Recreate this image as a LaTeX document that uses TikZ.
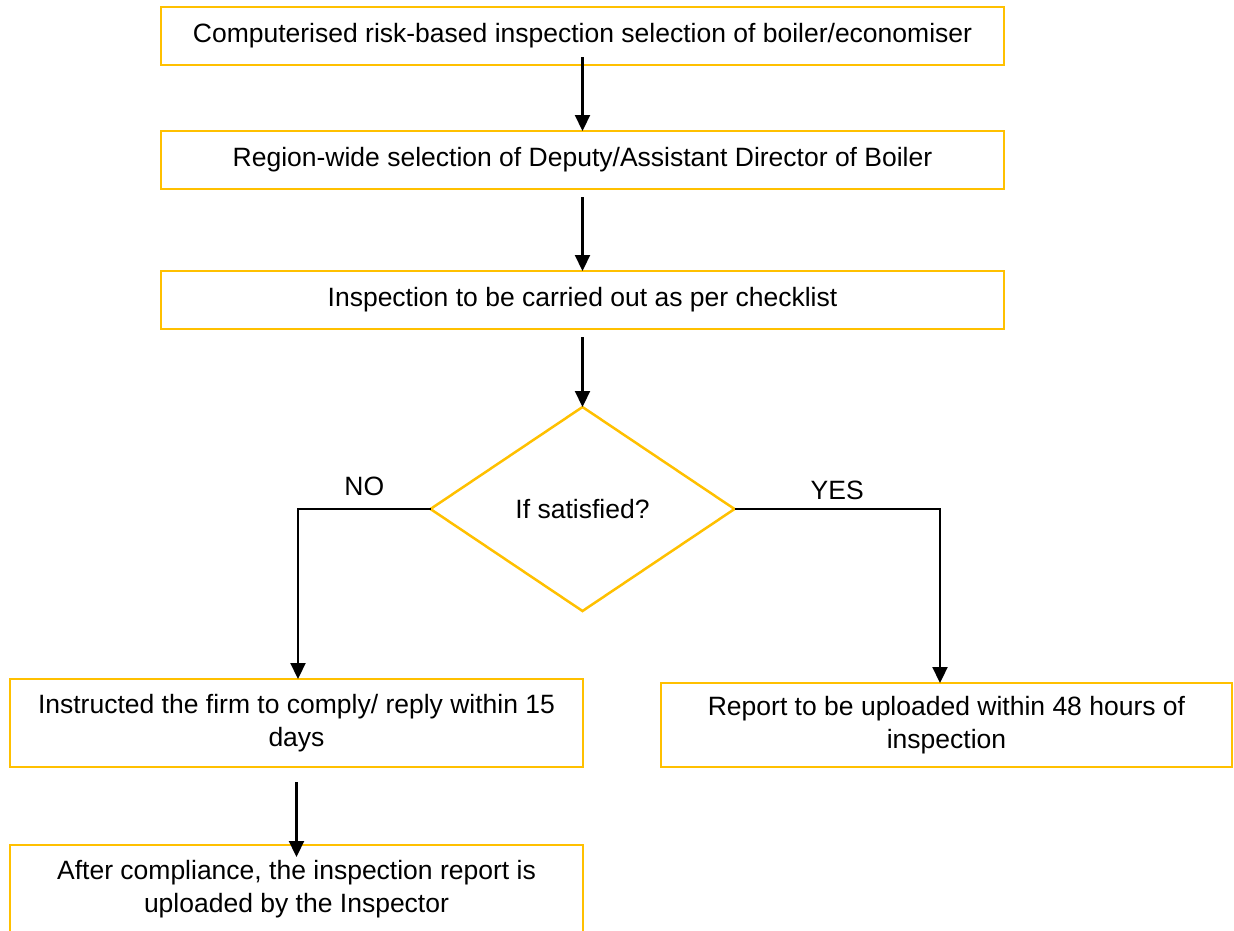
\documentclass[tikz,border=0pt]{standalone}
\usepackage{fontspec}
\setmainfont{Liberation Sans}
\usepackage{tikz}
\usetikzlibrary{positioning, shapes.geometric, arrows.meta}
\definecolor{boxgold}{HTML}{FFC000}

\begin{document}
\begin{tikzpicture}[x=1pt, y=-1pt,
                stepbox/.style={draw=boxgold, line width=2.5pt, rectangle, minimum width=843pt, minimum height=58pt, inner sep=0pt, outer sep=0pt, align=center, font=\fontsize{26.5}{33}\selectfont},
                halfbox/.style={stepbox, minimum width=573pt, minimum height=88pt},
                decision/.style={draw=boxgold, line width=2.5pt, diamond, minimum width=304pt, minimum height=204pt, inner sep=0pt, outer sep=0pt, font=\fontsize{26.5}{33}\selectfont},
                flow/.style={line width=2.2pt, -{Triangle[length=16pt, width=15pt]}},
                branchlabel/.style={font=\fontsize{26.5}{33}\selectfont}
            ]

            \path[use as bounding box, clip] (0,0) rectangle (1234,930);

            % Knoten
            \node[stepbox] (select) at (582.5,36) {Computerised risk-based inspection selection of boiler/economiser};
            \node[stepbox, below=66pt of select] (region) {Region-wide selection of Deputy/Assistant Director of Boiler};
            \node[stepbox, below=82pt of region] (check) {Inspection to be carried out as per checklist};
            \node[decision, below=78pt of check] (sat) {If satisfied?};
            \node[halfbox] (comply) at (296.5,723) {Instructed the firm to comply/ reply within 15\\days};
            \node[halfbox, minimum width=571pt, minimum height=84pt] (upload) at (946.5,725) {Report to be uploaded within 48 hours of\\inspection};
            \node[halfbox, below=78pt of comply] (after) {After compliance, the inspection report is\\uploaded by the Inspector};

            % Kanten zwischen Knoten
            \draw[flow, shorten <=-8pt] (select) -- (region);

            \draw[flow, shorten <=8pt] (region) -- (check);

            \draw[flow, shorten <=8pt] (check) -- (sat);

            \draw[flow] (sat.west) -| ([xshift=1.5pt]comply.north) node[pos=0.25, above=9pt, branchlabel] {NO};

            \draw[flow] (sat.east) -| ([xshift=-6.5pt]upload.north) node[pos=0.25, above=5pt, branchlabel] {YES};

            \draw[flow, shorten <=15pt, shorten >=-12pt] (comply) -- (after);

        \end{tikzpicture}
\end{document}
